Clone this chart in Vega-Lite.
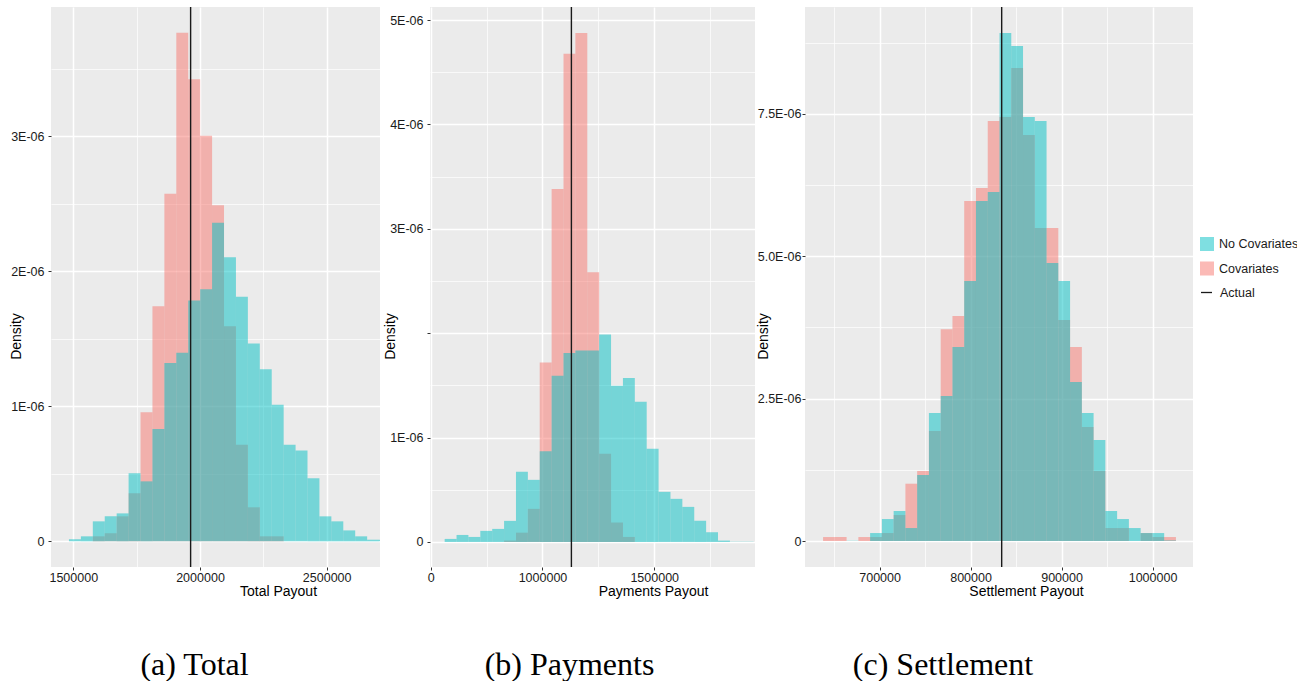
{
  "$schema": "https://vega.github.io/schema/vega-lite/v6.json",
  "background": "white",
  "padding": {"left": 9, "top": 6, "right": 0, "bottom": 0},
  "bounds": "flush",
  "spacing": 50,
  "datasets": {
    "bins": [
      {"panel": "Total", "model": "Covariates", "start": 1577040, "end": 1624110, "density": 0.037e-6},
      {"panel": "Total", "model": "Covariates", "start": 1624110, "end": 1671180, "density": 0.059e-6},
      {"panel": "Total", "model": "Covariates", "start": 1671180, "end": 1718250, "density": 0.185e-6},
      {"panel": "Total", "model": "Covariates", "start": 1718250, "end": 1765320, "density": 0.356e-6},
      {"panel": "Total", "model": "Covariates", "start": 1765320, "end": 1812390, "density": 0.956e-6},
      {"panel": "Total", "model": "Covariates", "start": 1812390, "end": 1859460, "density": 1.74e-6},
      {"panel": "Total", "model": "Covariates", "start": 1859460, "end": 1906530, "density": 2.573e-6},
      {"panel": "Total", "model": "Covariates", "start": 1906530, "end": 1953600, "density": 3.765e-6},
      {"panel": "Total", "model": "Covariates", "start": 1953600, "end": 2000670, "density": 3.422e-6},
      {"panel": "Total", "model": "Covariates", "start": 2000670, "end": 2047740, "density": 3.002e-6},
      {"panel": "Total", "model": "Covariates", "start": 2047740, "end": 2094810, "density": 2.489e-6},
      {"panel": "Total", "model": "Covariates", "start": 2094810, "end": 2141880, "density": 1.593e-6},
      {"panel": "Total", "model": "Covariates", "start": 2141880, "end": 2188950, "density": 0.716e-6},
      {"panel": "Total", "model": "Covariates", "start": 2188950, "end": 2236020, "density": 0.252e-6},
      {"panel": "Total", "model": "Covariates", "start": 2236020, "end": 2283090, "density": 0.037e-6},
      {"panel": "Total", "model": "Covariates", "start": 2283090, "end": 2330160, "density": 0.037e-6},
      {"panel": "Payments", "model": "Covariates", "start": 828350, "end": 881520, "density": 0.013e-6},
      {"panel": "Payments", "model": "Covariates", "start": 881520, "end": 934690, "density": 0.089e-6},
      {"panel": "Payments", "model": "Covariates", "start": 934690, "end": 987860, "density": 0.317e-6},
      {"panel": "Payments", "model": "Covariates", "start": 987860, "end": 1041030, "density": 1.718e-6},
      {"panel": "Payments", "model": "Covariates", "start": 1041030, "end": 1094200, "density": 3.381e-6},
      {"panel": "Payments", "model": "Covariates", "start": 1094200, "end": 1147370, "density": 4.677e-6},
      {"panel": "Payments", "model": "Covariates", "start": 1147370, "end": 1200540, "density": 4.875e-6},
      {"panel": "Payments", "model": "Covariates", "start": 1200540, "end": 1253710, "density": 2.585e-6},
      {"panel": "Payments", "model": "Covariates", "start": 1253710, "end": 1306880, "density": 0.845e-6},
      {"panel": "Payments", "model": "Covariates", "start": 1306880, "end": 1360050, "density": 0.186e-6},
      {"panel": "Payments", "model": "Covariates", "start": 1360050, "end": 1413220, "density": 0.048e-6},
      {"panel": "Settlement", "model": "Covariates", "start": 637870, "end": 650799, "density": 0.07e-6},
      {"panel": "Settlement", "model": "Covariates", "start": 650799, "end": 663728, "density": 0.07e-6},
      {"panel": "Settlement", "model": "Covariates", "start": 676657, "end": 689586, "density": 0.07e-6},
      {"panel": "Settlement", "model": "Covariates", "start": 689586, "end": 702515, "density": 0.07e-6},
      {"panel": "Settlement", "model": "Covariates", "start": 702515, "end": 715444, "density": 0.14e-6},
      {"panel": "Settlement", "model": "Covariates", "start": 715444, "end": 728373, "density": 0.456e-6},
      {"panel": "Settlement", "model": "Covariates", "start": 728373, "end": 741302, "density": 1.006e-6},
      {"panel": "Settlement", "model": "Covariates", "start": 741302, "end": 754231, "density": 1.229e-6},
      {"panel": "Settlement", "model": "Covariates", "start": 754231, "end": 767160, "density": 1.931e-6},
      {"panel": "Settlement", "model": "Covariates", "start": 767160, "end": 780089, "density": 3.716e-6},
      {"panel": "Settlement", "model": "Covariates", "start": 780089, "end": 793018, "density": 3.95e-6},
      {"panel": "Settlement", "model": "Covariates", "start": 793018, "end": 805947, "density": 5.969e-6},
      {"panel": "Settlement", "model": "Covariates", "start": 805947, "end": 818876, "density": 6.197e-6},
      {"panel": "Settlement", "model": "Covariates", "start": 818876, "end": 831805, "density": 7.374e-6},
      {"panel": "Settlement", "model": "Covariates", "start": 831805, "end": 844734, "density": 7.444e-6},
      {"panel": "Settlement", "model": "Covariates", "start": 844734, "end": 857663, "density": 8.304e-6},
      {"panel": "Settlement", "model": "Covariates", "start": 857663, "end": 870592, "density": 7.128e-6},
      {"panel": "Settlement", "model": "Covariates", "start": 870592, "end": 883521, "density": 5.495e-6},
      {"panel": "Settlement", "model": "Covariates", "start": 883521, "end": 896450, "density": 5.495e-6},
      {"panel": "Settlement", "model": "Covariates", "start": 896450, "end": 909379, "density": 3.88e-6},
      {"panel": "Settlement", "model": "Covariates", "start": 909379, "end": 922308, "density": 3.406e-6},
      {"panel": "Settlement", "model": "Covariates", "start": 922308, "end": 935237, "density": 2.001e-6},
      {"panel": "Settlement", "model": "Covariates", "start": 935237, "end": 948166, "density": 1.229e-6},
      {"panel": "Settlement", "model": "Covariates", "start": 948166, "end": 961095, "density": 0.228e-6},
      {"panel": "Settlement", "model": "Covariates", "start": 961095, "end": 974024, "density": 0.228e-6},
      {"panel": "Settlement", "model": "Covariates", "start": 986953, "end": 999882, "density": 0.14e-6},
      {"panel": "Settlement", "model": "Covariates", "start": 999882, "end": 1012811, "density": 0.07e-6},
      {"panel": "Settlement", "model": "Covariates", "start": 1012811, "end": 1025740, "density": 0.07e-6},

      {"panel": "Total", "model": "No Covariates", "start": 1482900, "end": 1529970, "density": 0.015e-6},
      {"panel": "Total", "model": "No Covariates", "start": 1529970, "end": 1577040, "density": 0.037e-6},
      {"panel": "Total", "model": "No Covariates", "start": 1577040, "end": 1624110, "density": 0.148e-6},
      {"panel": "Total", "model": "No Covariates", "start": 1624110, "end": 1671180, "density": 0.185e-6},
      {"panel": "Total", "model": "No Covariates", "start": 1671180, "end": 1718250, "density": 0.207e-6},
      {"panel": "Total", "model": "No Covariates", "start": 1718250, "end": 1765320, "density": 0.504e-6},
      {"panel": "Total", "model": "No Covariates", "start": 1765320, "end": 1812390, "density": 0.444e-6},
      {"panel": "Total", "model": "No Covariates", "start": 1812390, "end": 1859460, "density": 0.832e-6},
      {"panel": "Total", "model": "No Covariates", "start": 1859460, "end": 1906530, "density": 1.321e-6},
      {"panel": "Total", "model": "No Covariates", "start": 1906530, "end": 1953600, "density": 1.397e-6},
      {"panel": "Total", "model": "No Covariates", "start": 1953600, "end": 2000670, "density": 1.783e-6},
      {"panel": "Total", "model": "No Covariates", "start": 2000670, "end": 2047740, "density": 1.867e-6},
      {"panel": "Total", "model": "No Covariates", "start": 2047740, "end": 2094810, "density": 2.358e-6},
      {"panel": "Total", "model": "No Covariates", "start": 2094810, "end": 2141880, "density": 2.104e-6},
      {"panel": "Total", "model": "No Covariates", "start": 2141880, "end": 2188950, "density": 1.81e-6},
      {"panel": "Total", "model": "No Covariates", "start": 2188950, "end": 2236020, "density": 1.464e-6},
      {"panel": "Total", "model": "No Covariates", "start": 2236020, "end": 2283090, "density": 1.274e-6},
      {"panel": "Total", "model": "No Covariates", "start": 2283090, "end": 2330160, "density": 1.012e-6},
      {"panel": "Total", "model": "No Covariates", "start": 2330160, "end": 2377230, "density": 0.716e-6},
      {"panel": "Total", "model": "No Covariates", "start": 2377230, "end": 2424300, "density": 0.672e-6},
      {"panel": "Total", "model": "No Covariates", "start": 2424300, "end": 2471370, "density": 0.467e-6},
      {"panel": "Total", "model": "No Covariates", "start": 2471370, "end": 2518440, "density": 0.185e-6},
      {"panel": "Total", "model": "No Covariates", "start": 2518440, "end": 2565510, "density": 0.148e-6},
      {"panel": "Total", "model": "No Covariates", "start": 2565510, "end": 2612580, "density": 0.081e-6},
      {"panel": "Total", "model": "No Covariates", "start": 2612580, "end": 2659650, "density": 0.037e-6},
      {"panel": "Total", "model": "No Covariates", "start": 2659650, "end": 2706720, "density": 0.012e-6},
      {"panel": "Total", "model": "No Covariates", "start": 2706720, "end": 2753790, "density": 0.012e-6},
      {"panel": "Payments", "model": "No Covariates", "start": 562500, "end": 615670, "density": 0.029e-6},
      {"panel": "Payments", "model": "No Covariates", "start": 615670, "end": 668840, "density": 0.067e-6},
      {"panel": "Payments", "model": "No Covariates", "start": 668840, "end": 722010, "density": 0.048e-6},
      {"panel": "Payments", "model": "No Covariates", "start": 722010, "end": 775180, "density": 0.106e-6},
      {"panel": "Payments", "model": "No Covariates", "start": 775180, "end": 828350, "density": 0.125e-6},
      {"panel": "Payments", "model": "No Covariates", "start": 828350, "end": 881520, "density": 0.202e-6},
      {"panel": "Payments", "model": "No Covariates", "start": 881520, "end": 934690, "density": 0.672e-6},
      {"panel": "Payments", "model": "No Covariates", "start": 934690, "end": 987860, "density": 0.595e-6},
      {"panel": "Payments", "model": "No Covariates", "start": 987860, "end": 1041030, "density": 0.87e-6},
      {"panel": "Payments", "model": "No Covariates", "start": 1041030, "end": 1094200, "density": 1.593e-6},
      {"panel": "Payments", "model": "No Covariates", "start": 1094200, "end": 1147370, "density": 1.811e-6},
      {"panel": "Payments", "model": "No Covariates", "start": 1147370, "end": 1200540, "density": 1.833e-6},
      {"panel": "Payments", "model": "No Covariates", "start": 1200540, "end": 1253710, "density": 1.833e-6},
      {"panel": "Payments", "model": "No Covariates", "start": 1253710, "end": 1306880, "density": 1.987e-6},
      {"panel": "Payments", "model": "No Covariates", "start": 1306880, "end": 1360050, "density": 1.497e-6},
      {"panel": "Payments", "model": "No Covariates", "start": 1360050, "end": 1413220, "density": 1.571e-6},
      {"panel": "Payments", "model": "No Covariates", "start": 1413220, "end": 1466390, "density": 1.344e-6},
      {"panel": "Payments", "model": "No Covariates", "start": 1466390, "end": 1519560, "density": 0.893e-6},
      {"panel": "Payments", "model": "No Covariates", "start": 1519560, "end": 1572730, "density": 0.48e-6},
      {"panel": "Payments", "model": "No Covariates", "start": 1572730, "end": 1625900, "density": 0.413e-6},
      {"panel": "Payments", "model": "No Covariates", "start": 1625900, "end": 1679070, "density": 0.336e-6},
      {"panel": "Payments", "model": "No Covariates", "start": 1679070, "end": 1732240, "density": 0.202e-6},
      {"panel": "Payments", "model": "No Covariates", "start": 1732240, "end": 1785410, "density": 0.093e-6},
      {"panel": "Payments", "model": "No Covariates", "start": 1785410, "end": 1838580, "density": 0.013e-6},
      {"panel": "Payments", "model": "No Covariates", "start": 1838580, "end": 1891750, "density": 0.003e-6},
      {"panel": "Payments", "model": "No Covariates", "start": 1891750, "end": 1944920, "density": 0.002e-6},
      {"panel": "Settlement", "model": "No Covariates", "start": 663728, "end": 676657, "density": 0.005e-6},
      {"panel": "Settlement", "model": "No Covariates", "start": 689586, "end": 702515, "density": 0.14e-6},
      {"panel": "Settlement", "model": "No Covariates", "start": 702515, "end": 715444, "density": 0.386e-6},
      {"panel": "Settlement", "model": "No Covariates", "start": 715444, "end": 728373, "density": 0.527e-6},
      {"panel": "Settlement", "model": "No Covariates", "start": 728373, "end": 741302, "density": 0.228e-6},
      {"panel": "Settlement", "model": "No Covariates", "start": 741302, "end": 754231, "density": 1.159e-6},
      {"panel": "Settlement", "model": "No Covariates", "start": 754231, "end": 767160, "density": 2.247e-6},
      {"panel": "Settlement", "model": "No Covariates", "start": 767160, "end": 780089, "density": 2.546e-6},
      {"panel": "Settlement", "model": "No Covariates", "start": 780089, "end": 793018, "density": 3.406e-6},
      {"panel": "Settlement", "model": "No Covariates", "start": 793018, "end": 805947, "density": 4.565e-6},
      {"panel": "Settlement", "model": "No Covariates", "start": 805947, "end": 818876, "density": 5.969e-6},
      {"panel": "Settlement", "model": "No Covariates", "start": 818876, "end": 831805, "density": 6.128e-6},
      {"panel": "Settlement", "model": "No Covariates", "start": 831805, "end": 844734, "density": 8.918e-6},
      {"panel": "Settlement", "model": "No Covariates", "start": 844734, "end": 857663, "density": 8.69e-6},
      {"panel": "Settlement", "model": "No Covariates", "start": 857663, "end": 870592, "density": 7.444e-6},
      {"panel": "Settlement", "model": "No Covariates", "start": 870592, "end": 883521, "density": 7.374e-6},
      {"panel": "Settlement", "model": "No Covariates", "start": 883521, "end": 896450, "density": 4.881e-6},
      {"panel": "Settlement", "model": "No Covariates", "start": 896450, "end": 909379, "density": 4.565e-6},
      {"panel": "Settlement", "model": "No Covariates", "start": 909379, "end": 922308, "density": 2.791e-6},
      {"panel": "Settlement", "model": "No Covariates", "start": 922308, "end": 935237, "density": 2.247e-6},
      {"panel": "Settlement", "model": "No Covariates", "start": 935237, "end": 948166, "density": 1.773e-6},
      {"panel": "Settlement", "model": "No Covariates", "start": 948166, "end": 961095, "density": 0.527e-6},
      {"panel": "Settlement", "model": "No Covariates", "start": 961095, "end": 974024, "density": 0.386e-6},
      {"panel": "Settlement", "model": "No Covariates", "start": 974024, "end": 986953, "density": 0.228e-6},
      {"panel": "Settlement", "model": "No Covariates", "start": 986953, "end": 999882, "density": 0.14e-6},
      {"panel": "Settlement", "model": "No Covariates", "start": 999882, "end": 1012811, "density": 0.14e-6},
      {"panel": "Settlement", "model": "No Covariates", "start": 1012811, "end": 1025740, "density": 0.01e-6}
    ],
    "actual": [
      {"panel": "Total", "model": "Actual", "value": 1963000},
      {"panel": "Payments", "model": "Actual", "value": 1129500},
      {"panel": "Settlement", "model": "Actual", "value": 834200}
    ]
  },
  "hconcat": [
    {
      "width": 329,
      "height": 560,
      "title": {"text": "(a) Total", "orient": "bottom", "anchor": "middle", "frame": "group", "font": "Liberation Serif", "fontSize": 32, "fontWeight": "normal", "color": "#000000", "offset": 52, "dx": -21},
      "layer": [
        {
          "data": {"name": "bins"},
          "transform": [{"filter": "datum.panel == 'Total'"}],
          "mark": {"type": "bar", "opacity": 0.5, "clip": true},
          "encoding": {
            "x": {"field": "start", "type": "quantitative", "title": "Total Payout",
              "scale": {"domain": [1412000, 2710400], "nice": false, "zero": false},
              "axis": {"values": [1500000, 1750000, 2000000, 2250000, 2500000],
                "labelExpr": "datum.value % 500000 == 0 ? format(datum.value, 'd') : ''",
                "gridWidth": {"condition": {"test": "datum.value % 500000 != 0", "value": 0.7}, "value": 1.5},
                "tickOpacity": {"condition": {"test": "datum.value % 500000 != 0", "value": 0}, "value": 1},
                "titleX": 227, "titleY": 28, "titleBaseline": "alphabetic"}},
            "x2": {"field": "end"},
            "y": {"field": "density", "type": "quantitative", "title": "Density",
              "scale": {"domain": [-0.19e-6, 3.956e-6], "nice": false, "zero": false},
              "axis": {"values": [0, 0.5e-6, 1e-6, 1.5e-6, 2e-6, 2.5e-6, 3e-6, 3.5e-6],
                "labelExpr": "['0','','1E-06','','2E-06','','3E-06',''][round(datum.value*2e6)]",
                "gridWidth": {"condition": {"test": "round(datum.value*2e6) % 2 == 1", "value": 0.7}, "value": 1.5},
                "tickOpacity": {"condition": {"test": "round(datum.value*2e6) % 2 == 1", "value": 0}, "value": 1},
                "titleX": -28, "titleY": 329}},
            "y2": {"datum": 0},
            "fill": {"field": "model", "type": "nominal",
              "scale": {"domain": ["No Covariates", "Covariates"], "range": ["#00BFC4", "#F8766D"]},
              "legend": {"title": null, "orient": "none", "legendX": 1149, "legendY": 230, "padding": 0,
                "symbolType": "square", "symbolSize": 196, "symbolOpacity": 0.5, "symbolStrokeWidth": 0,
                "labelFontSize": 12.5, "labelFont": "Liberation Sans", "labelColor": "#1a1a1a",
                "rowPadding": 10.5, "labelOffset": 5}}
          }
        },
        {
          "data": {"name": "actual"},
          "transform": [{"filter": "datum.panel == 'Total'"}],
          "mark": {"type": "rule", "strokeWidth": 1.4},
          "encoding": {
            "x": {"field": "value", "type": "quantitative", "title": "Total Payout"},
            "stroke": {"field": "model", "type": "nominal",
              "scale": {"domain": ["Actual"], "range": ["#1a1a1a"]},
              "legend": {"title": null, "orient": "none", "legendX": 1149, "legendY": 279, "padding": 0,
                "symbolType": "stroke", "symbolSize": 120, "symbolStrokeWidth": 1.3,
                "labelFontSize": 12.5, "labelFont": "Liberation Sans", "labelColor": "#1a1a1a",
                "labelOffset": 7}}
          }
        }
      ]
    },
    {
      "width": 325,
      "height": 560,
      "title": {"text": "(b) Payments", "orient": "bottom", "anchor": "middle", "frame": "group", "font": "Liberation Serif", "fontSize": 32, "fontWeight": "normal", "color": "#000000", "offset": 52, "dx": -23},
      "layer": [
        {
          "data": {"name": "bins"},
          "transform": [{"filter": "datum.panel == 'Payments'"}],
          "mark": {"type": "bar", "opacity": 0.5, "clip": true},
          "encoding": {
            "x": {"field": "start", "type": "quantitative", "title": "Payments Payout",
              "scale": {"domain": [496900, 1950900], "nice": false, "zero": false},
              "axis": {"values": [500000, 750000, 1000000, 1250000, 1500000, 1750000],
                "labelExpr": "datum.value == 500000 ? '0' : (datum.value % 500000 == 0 ? format(datum.value, 'd') : '')",
                "gridWidth": {"condition": {"test": "datum.value % 500000 != 0", "value": 0.7}, "value": 1.5},
                "tickOpacity": {"condition": {"test": "datum.value % 500000 != 0", "value": 0}, "value": 1},
                "titleX": 223, "titleY": 28, "titleBaseline": "alphabetic"}},
            "x2": {"field": "end"},
            "y": {"field": "density", "type": "quantitative", "title": "Density",
              "scale": {"domain": [-0.24e-6, 5.125e-6], "nice": false, "zero": false},
              "axis": {"values": [0, 0.5e-6, 1e-6, 1.5e-6, 2e-6, 2.5e-6, 3e-6, 3.5e-6, 4e-6, 4.5e-6, 5e-6],
                "labelExpr": "['0','','1E-06','','','','3E-06','','4E-06','','5E-06'][round(datum.value*2e6)]",
                "gridWidth": {"condition": {"test": "round(datum.value*2e6) % 2 == 1", "value": 0.7}, "value": 1.5},
                "tickOpacity": {"condition": {"test": "round(datum.value*2e6) % 2 == 1", "value": 0}, "value": 1},
                "titleX": -33, "titleY": 329}},
            "y2": {"datum": 0},
            "fill": {"field": "model", "type": "nominal"}
          }
        },
        {
          "data": {"name": "actual"},
          "transform": [{"filter": "datum.panel == 'Payments'"}],
          "mark": {"type": "rule", "strokeWidth": 1.4},
          "encoding": {
            "x": {"field": "value", "type": "quantitative", "title": "Payments Payout"},
            "stroke": {"field": "model", "type": "nominal"}
          }
        }
      ]
    },
    {
      "width": 388,
      "height": 560,
      "title": {"text": "(c) Settlement", "orient": "bottom", "anchor": "middle", "frame": "group", "font": "Liberation Serif", "fontSize": 32, "fontWeight": "normal", "color": "#000000", "offset": 52, "dx": -56},
      "layer": [
        {
          "data": {"name": "bins"},
          "transform": [{"filter": "datum.panel == 'Settlement'"}],
          "mark": {"type": "bar", "opacity": 0.5, "clip": true},
          "encoding": {
            "x": {"field": "start", "type": "quantitative", "title": "Settlement Payout",
              "scale": {"domain": [618000, 1044500], "nice": false, "zero": false},
              "axis": {"values": [650000, 700000, 750000, 800000, 850000, 900000, 950000, 1000000],
                "labelExpr": "datum.value % 100000 == 0 ? format(datum.value, 'd') : ''",
                "gridWidth": {"condition": {"test": "datum.value % 100000 != 0", "value": 0.7}, "value": 1.5},
                "tickOpacity": {"condition": {"test": "datum.value % 100000 != 0", "value": 0}, "value": 1},
                "titleX": 221, "titleY": 28, "titleBaseline": "alphabetic"}},
            "x2": {"field": "end"},
            "y": {"field": "density", "type": "quantitative", "title": "Density",
              "scale": {"domain": [-0.456e-6, 9.375e-6], "nice": false, "zero": false},
              "axis": {"values": [0, 1.25e-6, 2.5e-6, 3.75e-6, 5e-6, 6.25e-6, 7.5e-6, 8.75e-6],
                "labelExpr": "['0','','2.5E-06','','5.0E-06','','7.5E-06',''][round(datum.value*0.8e6)]",
                "gridWidth": {"condition": {"test": "round(datum.value*0.8e6) % 2 == 1", "value": 0.7}, "value": 1.5},
                "tickOpacity": {"condition": {"test": "round(datum.value*0.8e6) % 2 == 1", "value": 0}, "value": 1},
                "labelPadding": 1,
                "titleX": -35, "titleY": 329}},
            "y2": {"datum": 0},
            "fill": {"field": "model", "type": "nominal"}
          }
        },
        {
          "data": {"name": "actual"},
          "transform": [{"filter": "datum.panel == 'Settlement'"}],
          "mark": {"type": "rule", "strokeWidth": 1.4},
          "encoding": {
            "x": {"field": "value", "type": "quantitative", "title": "Settlement Payout"},
            "stroke": {"field": "model", "type": "nominal"}
          }
        }
      ]
    }
  ],
  "config": {
    "font": "Liberation Sans",
    "view": {"stroke": null, "fill": "#EBEBEB"},
    "axis": {"domain": false, "gridColor": "#FFFFFF", "tickColor": "#333333", "tickSize": 3, "tickWidth": 1,
      "labelColor": "#1a1a1a", "labelFont": "Liberation Sans", "labelFontSize": 12.5,
      "titleFont": "Liberation Sans", "titleFontSize": 14, "titleFontWeight": "normal", "titleColor": "#000000",
      "labelFlush": false, "labelOverlap": false, "labelBound": false},
    "axisX": {"labelPadding": 1},
    "axisY": {"labelPadding": 4}
  }
}
